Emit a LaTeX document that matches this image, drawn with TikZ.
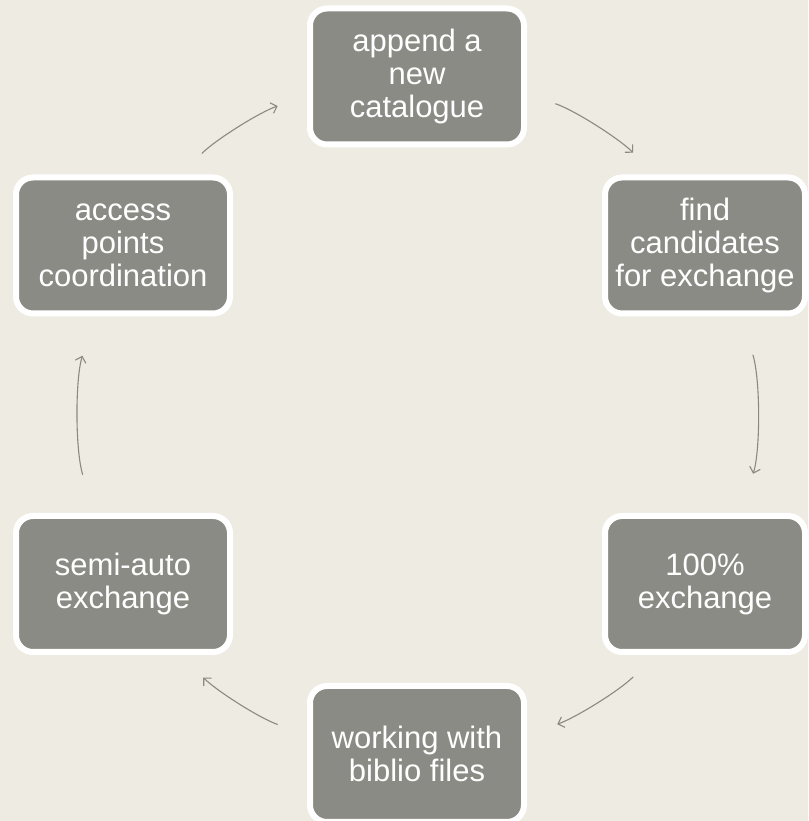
\documentclass[tikz,border=0pt]{standalone}
\usepackage{fontspec}
\setmainfont{Liberation Sans}
\usetikzlibrary{arrows.meta}
\definecolor{paper}{RGB}{238,235,227}
\definecolor{stone}{RGB}{138,139,132}
\definecolor{pencil}{RGB}{138,138,130}

\begin{document}
\begin{tikzpicture}[x=1pt, y=1pt]
    % Define block styles
    \tikzstyle{block} = [rectangle, draw=white, line width=6pt, fill=stone, text=white, align=center, rounded corners=17pt, minimum width=214pt, minimum height=136pt, inner sep=2pt, font=\fontsize{31}{33}\selectfont]
    \tikzstyle{narrow} = [block, minimum width=200pt]
    \tikzstyle{line} = [draw=pencil, line width=1.1pt, -{Straight Barb[length=5.5pt, width=11pt]}, looseness=0.86]

    % Background
    \fill [paper] (0,0) rectangle (808,821);
    \useasboundingbox (0,0) rectangle (808,821);

    % Nodes
    \node [block] (Append) at (417,744.5) {append a\\new\\catalogue};
    \node [narrow] (Candidates) at (705,575.5) {find\\candidates\\for exchange};
    \node [narrow] (Full) at (705,237) {100\%\\exchange};
    \node [block] (Biblio) at (417,67) {working with\\biblio files};
    \node [block] (SemiAuto) at (123,237) {semi-auto\\exchange};
    \node [block] (Access) at (123,575.5) {access\\points\\coordination};

    % Arrows
    \path [line, shorten <=30pt, shorten >=31pt] (Append.-9.75) to[out=-19, in=135.4] (Candidates.125.4);
    \path [line, shorten <=40pt, shorten >=41pt] (Candidates.-63.6) to[out=-73, in=73] (Full.63.4);
    \path [line, shorten <=31pt, shorten >=32pt] (Full.-125.2) to[out=-135.2, in=19] (Biblio.10);
    \path [line, shorten <=31pt, shorten >=32pt] (Biblio.170) to[out=161, in=-44.8] (SemiAuto.-51.7);
    \path [line, shorten <=40pt, shorten >=41pt] (SemiAuto.112.6) to[out=106.9, in=-106.9] (Access.-112.4);
    \path [line, shorten <=30pt, shorten >=31pt] (Access.51.5) to[out=44.6, in=199] (Append.-170.25);

  \end{tikzpicture}
\end{document}
